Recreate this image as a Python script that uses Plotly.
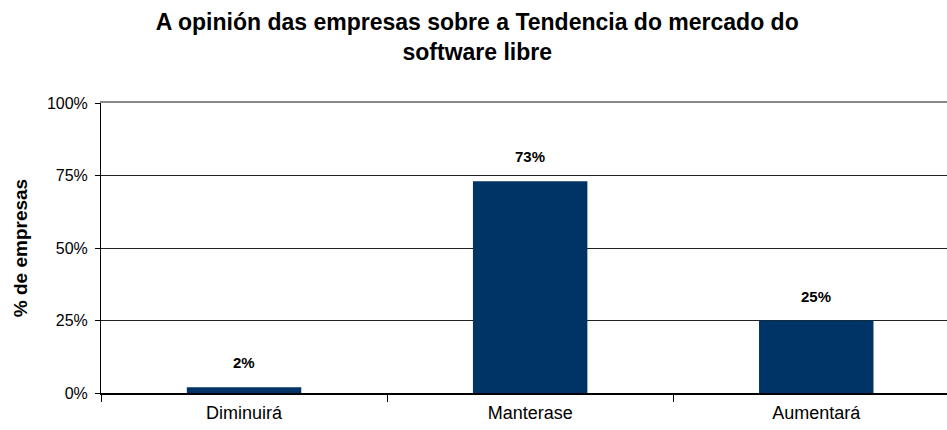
import plotly.graph_objects as go

categories = ["Diminuirá", "Manterase", "Aumentará"]
values = [2, 73, 25]
value_labels = ["2%", "73%", "25%"]
y_ticks = [0, 25, 50, 75, 100]
y_tick_labels = ["0%", "25%", "50%", "75%", "100%"]

bar_color = "#003466"
font_family = "Liberation Sans, Arial, sans-serif"

fig = go.Figure()
fig.add_trace(go.Bar(
    x=categories,
    y=values,
    marker=dict(color=bar_color, line=dict(width=0)),
    width=0.4,
    hoverinfo="skip",
))

# value labels above each bar
for cat, val, lab in zip(categories, values, value_labels):
    fig.add_annotation(
        x=cat, y=val, text=f"<b>{lab}</b>", showarrow=False,
        yanchor="bottom", yshift=14,
        font=dict(family=font_family, size=15, color="#000000"),
    )

fig.update_layout(
    width=947, height=430,
    margin=dict(l=101, r=0, t=103, b=37),
    paper_bgcolor="white", plot_bgcolor="white",
    showlegend=False,
    bargap=0.6,
    title=dict(
        text="<b>A opinión das empresas sobre a Tendencia do mercado do<br>software libre</b>",
        x=0.504, xanchor="center", y=0.93, yanchor="top",
        font=dict(family=font_family, size=23, color="#000000"),
    ),
    xaxis=dict(
        type="category",
        range=[-0.5, 2.457],
        tickson="boundaries",
        ticks="outside", ticklen=7, tickwidth=1, tickcolor="#000000",
        showline=True, linecolor="#000000", linewidth=1.5,
        showgrid=False, zeroline=False,
        ticklabelstandoff=3,
        tickfont=dict(family=font_family, size=18, color="#000000"),
    ),
    xaxis2=dict(
        overlaying="x", side="top", matches="x",
        showline=True, linecolor="#888888", linewidth=2,
        showticklabels=False, ticks="", showgrid=False, zeroline=False,
    ),
    yaxis=dict(
        range=[0, 100],
        tickvals=y_ticks, ticktext=y_tick_labels,
        ticks="outside", ticklen=5, tickcolor="#000000",
        showline=True, linecolor="#000000", linewidth=1,
        showgrid=True, gridcolor="#222222", gridwidth=1,
        zeroline=False,
        ticklabelstandoff=4,
        tickfont=dict(family=font_family, size=16, color="#000000"),
        title=dict(text="<b>% de empresas</b>", standoff=14,
                   font=dict(family=font_family, size=19, color="#000000")),
    ),
)

# top border line of the plot area
fig.add_trace(go.Bar(x=categories, y=[None] * len(categories), xaxis="x2",
                     hoverinfo="skip", showlegend=False))

fig.write_html("out.html")
